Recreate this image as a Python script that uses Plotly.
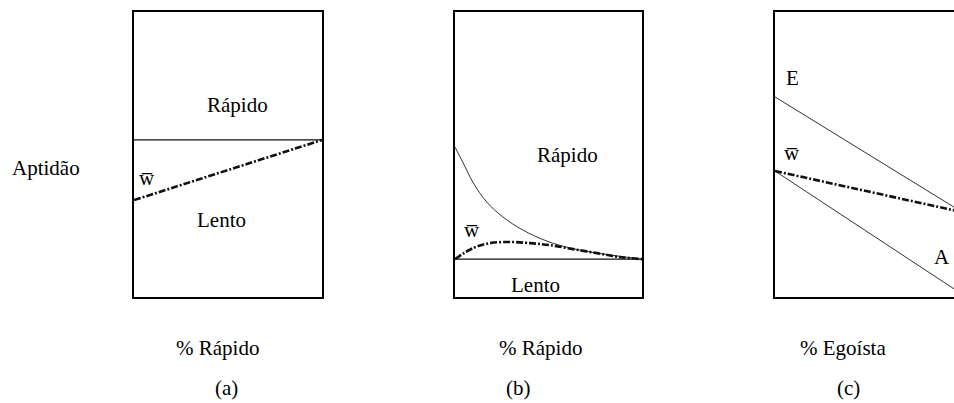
import plotly.graph_objects as go

W, H = 954, 403

# panel (a): fitness of fast / slow types and mean fitness vs % fast
a_x = [0.0, 1.0]
a_rapido = [0.551, 0.551]
a_wbar = [0.340, 0.551]

# panel (b): fast curve falls towards the slow line, mean fitness humps
b_x = [0.0, 0.044, 0.098, 0.170, 0.256, 0.363, 0.492, 0.615, 0.759, 0.866, 1.0]
b_rapido = [0.526, 0.470, 0.400, 0.333, 0.281, 0.235, 0.196, 0.172, 0.154, 0.144, 0.133]
b_wx = [0.0, 0.098, 0.187, 0.294, 0.401, 0.508, 0.631, 0.759, 0.882, 1.0]
b_wbar = [0.133, 0.172, 0.189, 0.193, 0.189, 0.182, 0.168, 0.154, 0.140, 0.133]
b_lento_x = [0.0, 1.0]
b_lento = [0.133, 0.133]

# panel (c): egoist (E), altruist (A) and mean fitness vs % egoist
c_x = [0.0, 1.0]
c_egoista = [0.702, 0.298]
c_altruista = [0.442, 0.01]
c_wbar = [0.442, 0.298]

x_titles = ["% Rápido", "% Rápido", "% Egoísta"]
panel_tags = ["(a)", "(b)", "(c)"]
y_title = "Aptidão"

FONT = "Liberation Serif"
WBAR = "w\u0305"


def px_x(v):
    return v / W


def px_y(v):
    return 1 - v / H


thin = dict(color="#333333", width=1)
thick = dict(color="#111111", width=2.6, dash="7px,2px,2px,2px")

fig = go.Figure()
fig.add_trace(go.Scatter(x=a_x, y=a_rapido, mode="lines", line=dict(color="#111111", width=1.3),
                         xaxis="x", yaxis="y"))
fig.add_trace(go.Scatter(x=a_x, y=a_wbar, mode="lines", line=thick, xaxis="x", yaxis="y"))

fig.add_trace(go.Scatter(x=b_lento_x, y=b_lento, mode="lines", line=dict(color="#111111", width=1.3),
                         xaxis="x2", yaxis="y2"))
fig.add_trace(go.Scatter(x=b_x, y=b_rapido, mode="lines", line=dict(thin, shape="spline"),
                         xaxis="x2", yaxis="y2"))
fig.add_trace(go.Scatter(x=b_wx, y=b_wbar, mode="lines", line=dict(thick, shape="spline"),
                         xaxis="x2", yaxis="y2"))

fig.add_trace(go.Scatter(x=c_x, y=c_egoista, mode="lines", line=thin, xaxis="x3", yaxis="y3"))
fig.add_trace(go.Scatter(x=c_x, y=c_altruista, mode="lines", line=thin, xaxis="x3", yaxis="y3"))
fig.add_trace(go.Scatter(x=c_x, y=c_wbar, mode="lines", line=thick, xaxis="x3", yaxis="y3"))

ydom = [px_y(297), px_y(12)]
box = dict(showline=True, linecolor="black", linewidth=1.6, showgrid=False, zeroline=False,
           showticklabels=False, ticks="", fixedrange=True)

fig.update_layout(
    width=W, height=H,
    margin=dict(l=0, r=0, t=0, b=0),
    paper_bgcolor="white", plot_bgcolor="white",
    showlegend=False,
    font=dict(family=FONT, size=21, color="black"),
    xaxis=dict(box, domain=[px_x(134), px_x(322)], range=[0, 1], mirror=True, anchor="y"),
    yaxis=dict(box, domain=ydom, range=[0, 1], mirror=True, anchor="x"),
    xaxis2=dict(box, domain=[px_x(455), px_x(642)], range=[0, 1], mirror=True, anchor="y2"),
    yaxis2=dict(box, domain=ydom, range=[0, 1], mirror=True, anchor="x2"),
    # right edge of box (c) runs past the picture, so no mirrored right side
    xaxis3=dict(box, domain=[px_x(775), 1], range=[0, 179 / 187], mirror=True, anchor="y3"),
    yaxis3=dict(box, domain=ydom, range=[0, 1], mirror=False, anchor="x3"),
)

notes = [
    ("x", "y", 0.553, 0.674, "Rápido"),
    ("x", "y", 0.463, 0.270, "Lento"),
    ("x", "y", 0.069, 0.418, WBAR),
    ("x2", "y2", 0.604, 0.498, "Rápido"),
    ("x2", "y2", 0.433, 0.042, "Lento"),
    ("x2", "y2", 0.091, 0.235, WBAR),
    ("x3", "y3", 0.091, 0.768, "E"),
    ("x3", "y3", 0.091, 0.505, WBAR),
    ("x3", "y3", 0.893, 0.140, "A"),
]
for xr, yr, x, y, t in notes:
    fig.add_annotation(x=x, y=y, xref=xr, yref=yr, text=t, showarrow=False,
                       xanchor="center", yanchor="middle")

fig.add_annotation(x=px_x(46), y=px_y(168), xref="paper", yref="paper", text=y_title,
                   showarrow=False, xanchor="center", yanchor="middle")
for cx, lab in zip([217, 540, 843], x_titles):
    fig.add_annotation(x=px_x(cx), y=px_y(348), xref="paper", yref="paper", text=lab,
                       showarrow=False, xanchor="center", yanchor="middle")
for cx, tag in zip([226, 518, 848], panel_tags):
    fig.add_annotation(x=px_x(cx), y=px_y(388), xref="paper", yref="paper", text=tag,
                       showarrow=False, xanchor="center", yanchor="middle")

# the page body has a default 8px margin; drop it so the figure sits at 0,0
fig.write_html("out.html", config={"displayModeBar": False},
               post_script="document.body.style.margin='0';document.body.style.overflow='hidden';")
